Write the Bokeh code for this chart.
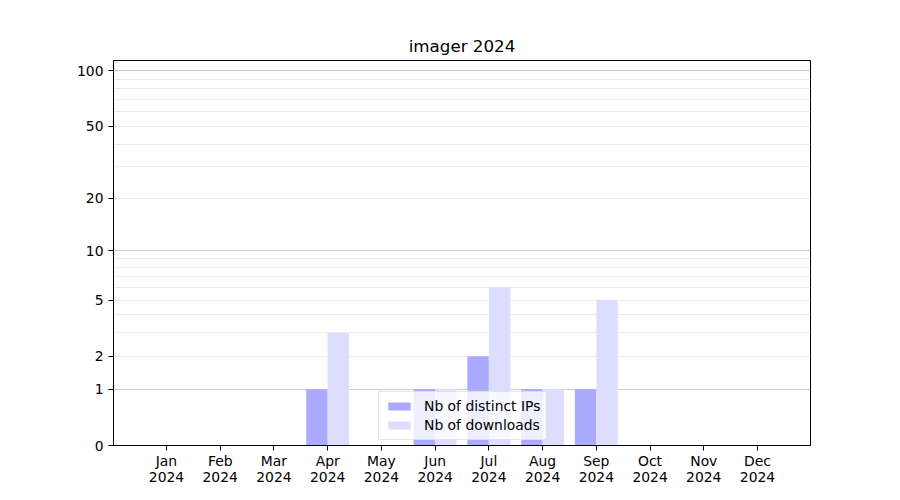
import numpy as np
from bokeh.plotting import figure
from bokeh.models import (ColumnDataSource, FixedTicker, Grid, Legend, LegendItem,
                          Range1d, CustomJSTickFormatter)
from bokeh.embed import file_html
from bokeh.resources import INLINE

# ---- data ----
months = ["Jan", "Feb", "Mar", "Apr", "May", "Jun", "Jul", "Aug", "Sep", "Oct", "Nov", "Dec"]
year = "2024"
distinct_ips = [0, 0, 0, 1, 0, 1, 2, 1, 1, 0, 0, 0]
downloads = [0, 0, 0, 3, 0, 1, 6, 1, 5, 0, 0, 0]
y_tick_values = [0, 1, 2, 5, 10, 20, 50, 100]
y_major_grid = [1, 10, 100]
y_minor_grid = [2, 3, 4, 5, 6, 7, 8, 9, 20, 30, 40, 50, 60, 70, 80, 90]
y_max = 113.7
title = "imager 2024"


def tf(v):
    # log(1 + y) scale, as in the reference
    return np.log10(1.0 + np.asarray(v, dtype=float))


FONT = "DejaVu Sans"
idx = np.arange(len(months))
bar_w = 0.4

src = ColumnDataSource(dict(
    x_ip=idx - bar_w / 2,
    x_dl=idx + bar_w / 2,
    top_ip=tf(distinct_ips),
    top_dl=tf(downloads),
))

p = figure(width=884, height=492, output_backend="svg", toolbar_location=None,
           x_range=Range1d(-0.986, len(months) - 1 + 0.986),
           y_range=Range1d(0, float(tf(y_max))),
           min_border_left=113, min_border_right=74,
           min_border_top=60, min_border_bottom=47)

p.title.text = title
p.title.align = "center"
p.title.text_font = FONT
p.title.text_font_size = "16.7px"
p.title.text_font_style = "normal"
p.title.text_color = "black"

p.xgrid.visible = False
p.ygrid.visible = False

g_minor = Grid(dimension=1, ticker=FixedTicker(ticks=list(tf(y_minor_grid))),
               grid_line_color="#ebebeb", grid_line_width=1)
g_major = Grid(dimension=1, ticker=FixedTicker(ticks=list(tf(y_major_grid))),
               grid_line_color="#cccccc", grid_line_width=1)
p.add_layout(g_minor, "center")
p.add_layout(g_major, "center")

r_ip = p.vbar(x="x_ip", top="top_ip", bottom=0, width=bar_w, source=src,
              fill_color="#aaaaff", line_color=None)
r_dl = p.vbar(x="x_dl", top="top_dl", bottom=0, width=bar_w, source=src,
              fill_color="#ddddff", line_color=None)

# y axis
p.yaxis.ticker = FixedTicker(ticks=list(tf(y_tick_values)), minor_ticks=[])
p.yaxis.formatter = CustomJSTickFormatter(code="return String(Math.round(Math.pow(10, tick) - 1));")
# x axis
p.xaxis.ticker = FixedTicker(ticks=list(idx), minor_ticks=[])
p.xaxis.major_label_overrides = {int(i): f"{m}\n{year}" for i, m in zip(idx, months)}

for ax in (p.xaxis, p.yaxis):
    ax.axis_line_color = "black"
    ax.major_tick_line_color = "black"
    ax.major_tick_out = 5
    ax.major_tick_in = 0
    ax.minor_tick_line_color = None
    ax.major_label_text_font = FONT
    ax.major_label_text_font_size = "13.9px"
    ax.major_label_text_color = "black"
p.xaxis.major_label_standoff = 2
p.xaxis.major_label_text_line_height = 1.0
p.yaxis.major_label_standoff = 5

p.outline_line_color = "black"
p.outline_line_width = 1
p.outline_line_alpha = 1

legend = Legend(items=[LegendItem(label="Nb of distinct IPs", renderers=[r_ip]),
                       LegendItem(label="Nb of downloads", renderers=[r_dl])],
                location=(265, 5), margin=0, padding=6, spacing=3,
                glyph_width=28, glyph_height=10, label_standoff=11, label_height=16,
                label_text_font=FONT, label_text_font_size="13.9px",
                label_text_color="black",
                background_fill_color="white", background_fill_alpha=0.8,
                border_line_color="#cccccc", border_line_width=1)
p.add_layout(legend, "center")

open("out.html", "w").write(file_html(p, INLINE))
